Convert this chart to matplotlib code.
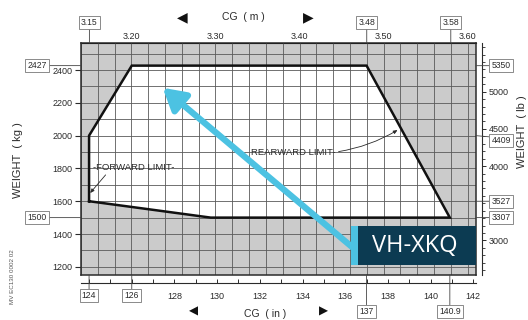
import numpy as np
import matplotlib.pyplot as plt
from matplotlib.patches import Rectangle

plt.rcParams['font.family'] = ['Liberation Sans', 'DejaVu Sans']

# envelope (CG in inches, weight in kg)
env_cg_in = [124, 124, 126, 137, 140.9, 129.7, 124]
env_wt_kg = [1600, 2000, 2427, 2427, 1500, 1500, 1600]

# axis ticks
kg_ticks = [1200, 1400, 1600, 1800, 2000, 2200, 2400]
in_ticks = [128, 130, 132, 134, 136, 138, 140, 142]
m_ticks = [3.20, 3.30, 3.40, 3.50, 3.60]
lb_ticks = [3000, 4000, 4500, 5000]

# boxed reference values
box_left_kg = [2427, 1500]
box_right_lb = [5350, 4409, 3527, 3307]
box_top_m = [3.15, 3.48, 3.58]
box_bottom_in_hi = [124, 126]
box_bottom_in_lo = [137, 140.9]

aircraft = 'VH-XKQ'

M2IN = 1 / 0.0254
KG2LB = 2.20462

ink = '#2b2b2b'
shade = '#cbcbcb'
gridc = '#5a5a5a'
cyan = '#4cc2e2'
navy = '#0c3b52'

fig = plt.figure(figsize=(5.28, 3.2), dpi=100)
ax = fig.add_axes([81 / 528, 45 / 320, 395 / 528, 232 / 320])
ax.set_xlim(3.14 * M2IN, 3.61 * M2IN)
ax.set_ylim(1150, 2565)
ax.set_facecolor(shade)

# white envelope interior, then grid, then outline
ax.fill(env_cg_in, env_wt_kg, color='white', zorder=1, lw=0)
for m in np.arange(3.14, 3.611, 0.02):
    ax.axvline(m * M2IN, color=gridc, lw=0.6, zorder=2)
for w in range(1200, 2600, 100):
    ax.axhline(w, color=gridc, lw=0.6, zorder=2)
ax.plot(env_cg_in, env_wt_kg, color='#111111', lw=1.8, zorder=4,
        solid_joinstyle='miter')

for s in ax.spines.values():
    s.set_color(ink)
    s.set_linewidth(1.1)
    s.set_zorder(5)

# left axis (kg)
ax.set_yticks(kg_ticks)
ax.tick_params(axis='y', direction='out', length=4, width=0.8, pad=2,
               labelsize=6.5, colors=ink)
ax.set_xticks([])

# bottom axis (inches), offset below the frame
bx = ax.secondary_xaxis(-0.036)
bx.set_xticks(in_ticks)
bx.set_xticks(np.arange(124, 143, 1), minor=True)
bx.tick_params(which='both', direction='in', length=3, width=0.7,
               pad=6, labelsize=6.5, colors=ink)
bx.spines['bottom'].set_color(ink)

# top axis (metres)
tx = ax.secondary_xaxis('top', functions=(lambda x: x / M2IN, lambda m: m * M2IN))
tx.set_xticks(m_ticks, labels=[f'{v:.2f}' for v in m_ticks])
tx.tick_params(length=0, pad=1.5, labelsize=6.5, colors=ink)

# right axis (lb), offset to the right
rx = ax.secondary_yaxis(1.015, functions=(lambda k: k * KG2LB, lambda l: l / KG2LB))
rx.set_yticks(lb_ticks)
rx.set_yticks(np.arange(2600, 5700, 100), minor=True)
rx.tick_params(which='major', direction='out', length=3, width=0.7, pad=2,
               labelsize=6.5, colors=ink)
rx.tick_params(which='minor', direction='out', length=1.8, width=0.5)
rx.spines['right'].set_color(ink)

box = dict(boxstyle='square,pad=0.25', fc='white', ec='#777777', lw=0.6)


def boxed(text, xy, xycoords, off, relpos=(0.5, 0.5)):
    ax.annotate(text, xy=xy, xycoords=xycoords, xytext=off,
                textcoords='offset points', ha='center', va='center',
                fontsize=6.2, color=ink, bbox=box, zorder=6,
                annotation_clip=False,
                arrowprops=dict(arrowstyle='-', color='#444444', lw=0.6,
                                shrinkA=0, shrinkB=0, relpos=relpos))


for v in box_left_kg:
    boxed(f'{v}', (0, v), ('axes fraction', 'data'), (-31.5, 0), (1, 0.5))
for v in box_right_lb:
    dy = -3.5 if v == 4409 else 0
    boxed(f'{v}', (1, v / KG2LB), ('axes fraction', 'data'), (18, dy),
          (0, 0.5 - dy / 9))
for v in box_top_m:
    boxed(f'{v:.2f}', (v * M2IN, 1), ('data', 'axes fraction'), (0, 15), (0.5, 0))
for v in box_bottom_in_hi:
    boxed(f'{v}', (v, 0), ('data', 'axes fraction'), (0, -15), (0.5, 1))
for v in box_bottom_in_lo:
    boxed(f'{v:g}', (v, 0), ('data', 'axes fraction'), (0, -26.5), (0.5, 1))

# limit labels
ax.annotate('-FORWARD LIMIT-', xy=(124.05, 1650), xytext=(124.2, 1805),
            fontsize=6.8, color=ink, va='center', ha='left', zorder=6,
            arrowprops=dict(arrowstyle='-|>,head_length=0.35,head_width=0.15',
                            color=ink, lw=0.6, shrinkA=0, shrinkB=0,
                            relpos=(0.18, 0)))
ax.annotate('REARWARD LIMIT-', xy=(138.45, 2034), xytext=(131.6, 1900),
            fontsize=6.8, color=ink, va='center', ha='left', zorder=6,
            arrowprops=dict(arrowstyle='-|>,head_length=0.35,head_width=0.15',
                            color=ink, lw=0.6, shrinkA=0, shrinkB=0,
                            relpos=(1, 0.5), connectionstyle='arc3,rad=0.1'))

# highlight arrow and label box
ax.annotate('', xy=(127.45, 2292), xytext=(136.6, 1290), zorder=7,
            arrowprops=dict(arrowstyle='-|>,head_length=1.3,head_width=0.75',
                            color=cyan, lw=4.5, shrinkA=0, shrinkB=0))
ax.add_patch(Rectangle((0.6835, 0.043), 0.3165, 0.168, transform=ax.transAxes,
                       fc=navy, ec='none', zorder=8, clip_on=False))
ax.add_patch(Rectangle((0.6835, 0.043), 0.018, 0.168, transform=ax.transAxes,
                       fc=cyan, ec='none', zorder=9, clip_on=False))
ax.text(0.845, 0.127, aircraft, transform=ax.transAxes, color='white',
        fontsize=17, ha='center', va='center', zorder=10,
        family=['Open Sans', 'DejaVu Sans'])

# axis titles
fig.text(18 / 528, 1 - 160 / 320, 'WEIGHT  ( kg )', rotation=90, fontsize=8,
         color=ink, ha='center', va='center')
fig.text(522 / 528, 1 - 132 / 320, 'WEIGHT  ( lb )', rotation=90, fontsize=8,
         color=ink, ha='center', va='center')
fig.text(243 / 528, 1 - 17 / 320, 'CG  ( m )', fontsize=7.5, color=ink,
         ha='center', va='center')
fig.text(182 / 528, 1 - 17 / 320, '\u25c0', fontsize=10, color='#111111',
         ha='center', va='center')
fig.text(308 / 528, 1 - 17 / 320, '\u25b6', fontsize=10, color='#111111',
         ha='center', va='center')
fig.text(265 / 528, 1 - 314 / 320, 'CG  ( in )', fontsize=7.5, color=ink,
         ha='center', va='center')
fig.text(193 / 528, 1 - 312 / 320, '\u25c0', fontsize=8.5, color='#111111',
         ha='center', va='center')
fig.text(323 / 528, 1 - 312 / 320, '\u25b6', fontsize=8.5, color='#111111',
         ha='center', va='center')
fig.text(13 / 528, 1 - 277 / 320, 'MV EC130 0002 02', rotation=90, fontsize=4.5,
         color='#555555', ha='center', va='center')

fig.savefig('out.png', dpi=100, facecolor='white')
